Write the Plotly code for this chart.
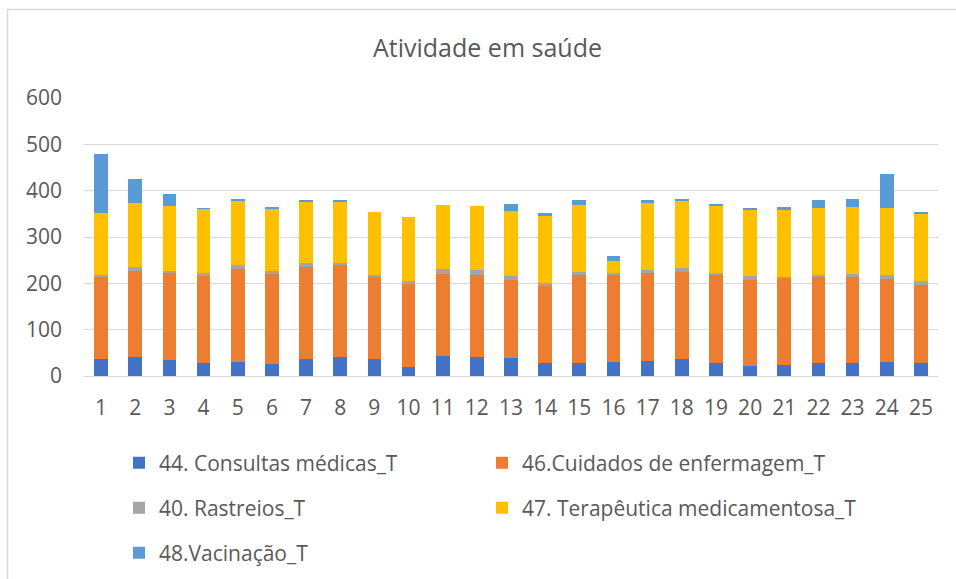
import plotly.graph_objects as go

categories = [str(i) for i in range(1, 26)]
consultas = [37, 40, 35, 27, 31, 26, 37, 41, 37, 19, 43, 41, 39, 28, 27, 30, 33, 37, 29, 22, 24, 27, 29, 31, 27]
enfermagem = [177, 186, 188, 188, 199, 195, 199, 199, 178, 179, 178, 178, 169, 167, 190, 189, 189, 188, 188, 186, 189, 188, 184, 179, 170]
rastreios = [4, 9, 4, 7, 10, 5, 7, 4, 3, 6, 9, 9, 7, 5, 7, 3, 6, 9, 6, 7, 1, 3, 7, 8, 8]
terapeutica = [133, 138, 139, 139, 138, 135, 134, 133, 135, 139, 139, 139, 141, 145, 146, 27, 145, 145, 145, 145, 144, 145, 145, 144, 144]
vacinacao = [129, 53, 26, 1, 2, 3, 1, 1, 0, 0, 0, 0, 16, 6, 9, 11, 7, 1, 3, 1, 7, 16, 18, 74, 5]

series = [
    ("44. Consultas médicas_T", consultas, "#4472C4", "legend"),
    ("46.Cuidados de enfermagem_T", enfermagem, "#ED7D31", "legend2"),
    ("40. Rastreios_T", rastreios, "#A5A5A5", "legend3"),
    ("47. Terapêutica medicamentosa_T", terapeutica, "#FFC000", "legend4"),
    ("48.Vacinação_T", vacinacao, "#5B9BD5", "legend5"),
]

FONT = "Open Sans, Noto Sans, sans-serif"
TXT = "#595959"

fig = go.Figure()
for name, vals, col, lg in series:
    fig.add_trace(go.Bar(x=categories, y=vals, name=name, marker=dict(color=col, line=dict(width=0)),
                         legend=lg))

W, H = 956, 579
L, R, T, B = 84, 18, 98, 203
pw, ph = W - L - R, H - T - B

def px_x(x):
    return (x - L) / pw

def px_y(y):
    return (H - B - y) / ph

leg_common = dict(orientation="h", font=dict(family=FONT, size=21, color=TXT),
                  xanchor="left", yanchor="middle",
                  bgcolor="rgba(0,0,0,0)", itemclick=False, itemdoubleclick=False)

col1, col2 = 119, 482
row1, row2, row3 = 463, 508, 553

fig.update_layout(
    width=W, height=H,
    margin=dict(l=L, r=R, t=T, b=B, autoexpand=False),
    paper_bgcolor="white", plot_bgcolor="white",
    barmode="stack", bargap=0.6,
    font=dict(family=FONT, color=TXT),
    title=dict(text="Atividade em saúde", font=dict(family=FONT, size=25, color=TXT),
               x=487.5 / W, xref="container", xanchor="center",
               y=1 - 48 / H, yref="container", yanchor="middle"),
    xaxis=dict(type="category", showgrid=False, showline=True, linecolor="#D9D9D9", linewidth=1,
               ticks="", tickfont=dict(family=FONT, size=21, color=TXT), ticklabelstandoff=13),
    yaxis=dict(range=[0, 600], dtick=100, showgrid=True, gridcolor="#D9D9D9", gridwidth=1,
               zeroline=False, showline=False, ticks="",
               tickfont=dict(family=FONT, size=21, color=TXT), ticklabelstandoff=21),
    legend=dict(x=px_x(col1), y=px_y(row1), **leg_common),
    legend2=dict(x=px_x(col2), y=px_y(row1), **leg_common),
    legend3=dict(x=px_x(col1), y=px_y(row2), **leg_common),
    legend4=dict(x=px_x(col2), y=px_y(row2), **leg_common),
    legend5=dict(x=px_x(col1), y=px_y(row3), **leg_common),
    showlegend=True,
    shapes=[dict(type="rect", xref="paper", yref="paper",
                 x0=px_x(7.5), x1=px_x(990), y0=px_y(620), y1=px_y(9.5),
                 line=dict(color="#D9D9D9", width=1.5), fillcolor="rgba(0,0,0,0)", layer="below")],
)

fig.write_html("out.html", config={"displayModeBar": False},
               post_script="document.body.style.margin='0';")
